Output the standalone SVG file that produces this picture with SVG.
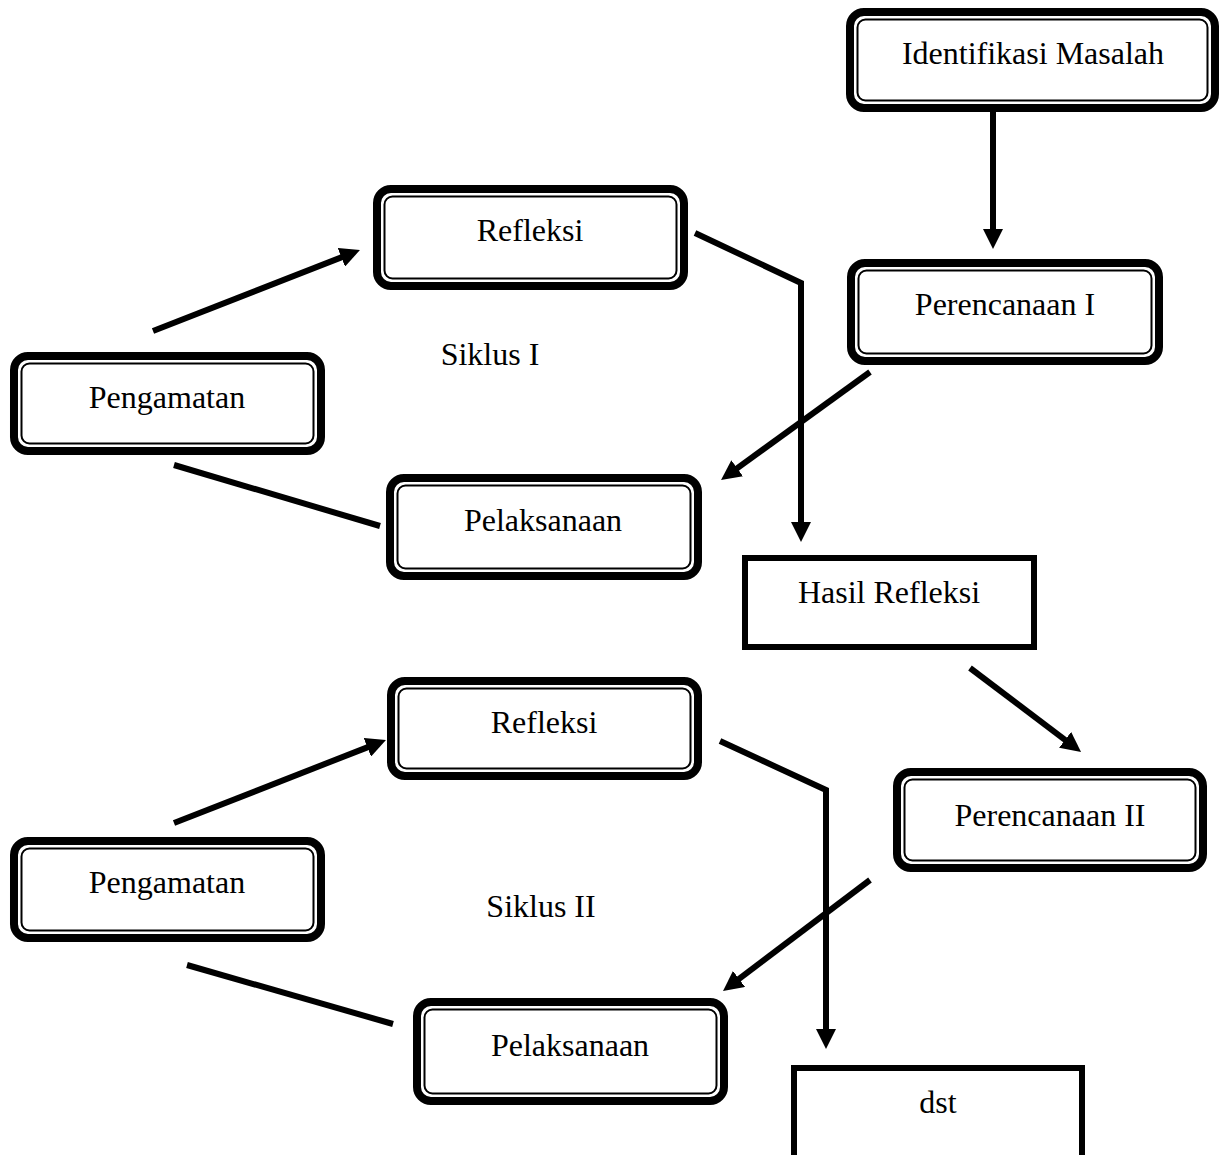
<svg xmlns="http://www.w3.org/2000/svg" width="1227" height="1155" viewBox="0 0 1227 1155">
<style>
.o{fill:#fff;stroke:#000;stroke-width:8}
.i{fill:none;stroke:#000;stroke-width:2}
.sq{fill:#fff;stroke:#000;stroke-width:6}
text{font-family:"Liberation Serif","Times New Roman",serif;font-size:32px;fill:#000;text-anchor:middle}
.c{fill:none;stroke:#000;stroke-width:6;stroke-linejoin:miter}
</style>
<defs>
<marker id="ah" viewBox="0 -10 20 20" refX="2" refY="0" markerWidth="20" markerHeight="20" markerUnits="userSpaceOnUse" orient="auto">
<path d="M0,-10 L20,0 L0,10 z" fill="#000"/>
</marker>
</defs>
<rect width="1227" height="1155" fill="#fff"/>
<g id="connectors">
<path class="c" d="M993,112 L993,231" marker-end="url(#ah)"/>
<path class="c" d="M695,233 L801,283 L801,524" marker-end="url(#ah)"/>
<path class="c" d="M870,372 L735.6,469.4" marker-end="url(#ah)"/>
<path class="c" d="M153,331 L343.2,256.6" marker-end="url(#ah)"/>
<path class="c" d="M174,465 L380,526"/>
<path class="c" d="M970,668 L1066.7,741.1" marker-end="url(#ah)"/>
<path class="c" d="M720,741 L826,790 L826,1031" marker-end="url(#ah)"/>
<path class="c" d="M870,880 L737.4,980.1" marker-end="url(#ah)"/>
<path class="c" d="M174,823 L369.2,746.6" marker-end="url(#ah)"/>
<path class="c" d="M187,965 L393,1024"/>
</g>
<g id="identifikasi">
<rect class="o" x="850" y="12" width="365" height="96" rx="14"/>
<rect class="i" x="857.5" y="19.5" width="350" height="81" rx="8"/>
<text x="1033" y="64">Identifikasi Masalah</text>
</g>
<g id="refleksi1">
<rect class="o" x="377" y="189" width="307" height="97" rx="14"/>
<rect class="i" x="384.5" y="196.5" width="292" height="82" rx="8"/>
<text x="530" y="241">Refleksi</text>
</g>
<g id="perencanaan1">
<rect class="o" x="851" y="263" width="308" height="98" rx="14"/>
<rect class="i" x="858.5" y="270.5" width="293" height="83" rx="8"/>
<text x="1005" y="315">Perencanaan I</text>
</g>
<g id="siklus1">
<text x="490" y="365">Siklus I</text>
</g>
<g id="pengamatan1">
<rect class="o" x="14" y="356" width="307" height="95" rx="14"/>
<rect class="i" x="21.5" y="363.5" width="292" height="80" rx="8"/>
<text x="167" y="408">Pengamatan</text>
</g>
<g id="pelaksanaan1">
<rect class="o" x="390" y="478" width="308" height="98" rx="14"/>
<rect class="i" x="397.5" y="485.5" width="293" height="83" rx="8"/>
<text x="543" y="531">Pelaksanaan</text>
</g>
<g id="hasil">
<rect class="sq" x="745" y="558" width="289" height="89"/>
<text x="889" y="603">Hasil Refleksi</text>
</g>
<g id="refleksi2">
<rect class="o" x="391" y="681" width="307" height="95" rx="14"/>
<rect class="i" x="398.5" y="688.5" width="292" height="80" rx="8"/>
<text x="544" y="733">Refleksi</text>
</g>
<g id="perencanaan2">
<rect class="o" x="897" y="772" width="306" height="96" rx="14"/>
<rect class="i" x="904.5" y="779.5" width="291" height="81" rx="8"/>
<text x="1050" y="826">Perencanaan II</text>
</g>
<g id="pengamatan2">
<rect class="o" x="14" y="841" width="307" height="97" rx="14"/>
<rect class="i" x="21.5" y="848.5" width="292" height="82" rx="8"/>
<text x="167" y="893">Pengamatan</text>
</g>
<g id="siklus2">
<text x="541" y="917">Siklus II</text>
</g>
<g id="pelaksanaan2">
<rect class="o" x="417" y="1002" width="307" height="99" rx="14"/>
<rect class="i" x="424.5" y="1009.5" width="292" height="84" rx="8"/>
<text x="570" y="1056">Pelaksanaan</text>
</g>
<g id="dst">
<rect class="sq" x="794" y="1068" width="288" height="120"/>
<text x="938" y="1113">dst</text>
</g>
</svg>
